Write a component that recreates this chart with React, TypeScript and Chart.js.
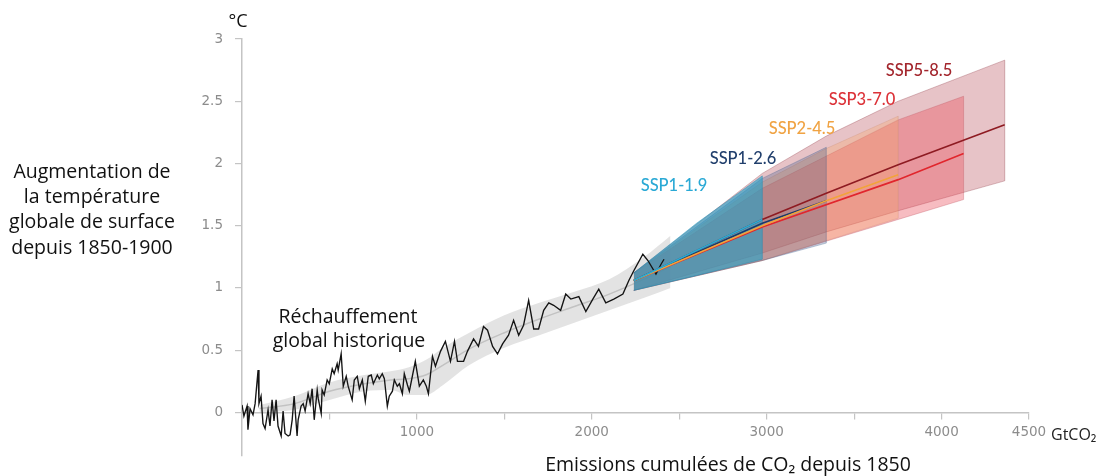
import React, { useEffect, useRef } from "react";
import { Chart, registerables } from "chart.js";

Chart.register(...registerables);

// ---------- Data ----------
const historicalEmissions = [
  0, 11, 29, 34, 46, 63, 75, 92, 97, 109,
  120, 132, 149, 160, 172, 183, 195, 206, 224, 235,
  246, 264, 275, 287, 298, 315, 321, 338, 350, 361,
  378, 390, 401, 413, 430, 436, 453, 458, 470, 487,
  499, 516, 527, 544, 550, 567, 579, 596, 607, 630,
  642, 659, 671, 688, 705, 722, 739, 751, 774, 785,
  802, 814, 831, 842, 860, 871, 888, 900, 917, 928,
  946, 957, 974, 991, 1014, 1037, 1054, 1066, 1089, 1106,
  1135, 1163, 1192, 1215, 1232, 1267, 1289, 1324, 1352, 1381,
  1404, 1433, 1461, 1490, 1524, 1553, 1582, 1610, 1639, 1668,
  1696, 1725, 1754, 1782, 1822, 1851, 1880, 1926, 1966, 2006,
  2040, 2080, 2126, 2178, 2212, 2241, 2292, 2321, 2367, 2396,
  2413,
];
const historicalWarming = [
  0.06, -0.03, 0.05, -0.14, 0.03, -0.02, 0.07, 0.34, 0.07, 0.13,
  -0.09, -0.13, 0.02, -0.11, 0.1, -0.07, 0.1, -0.11, -0.19, 0.01,
  -0.17, -0.19, -0.18, -0.06, 0.13, -0.19, -0.06, 0.05, 0.07, 0.01,
  0.15, 0.07, 0.19, -0.06, 0.18, 0.11, -0.01, 0.18, 0.14, 0.26,
  0.23, 0.35, 0.31, 0.39, 0.34, 0.47, 0.21, 0.29, 0.21, 0.1,
  0.26, 0.29, 0.19, 0.26, 0.09, 0.29, 0.3, 0.23, 0.3, 0.27,
  0.31, 0.27, 0.05, 0.13, 0.17, 0.26, 0.21, 0.23, 0.15, 0.31,
  0.22, 0.17, 0.29, 0.41, 0.21, 0.26, 0.21, 0.15, 0.45, 0.37,
  0.49, 0.57, 0.41, 0.57, 0.41, 0.41, 0.49, 0.59, 0.53, 0.69,
  0.66, 0.53, 0.47, 0.55, 0.62, 0.74, 0.62, 0.7, 0.9, 0.67,
  0.67, 0.82, 0.88, 0.86, 0.82, 0.95, 0.91, 0.93, 0.81, 0.91,
  0.99, 0.88, 0.91, 0.95, 1.06, 1.14, 1.27, 1.22, 1.11, 1.19,
  1.23,
];

const bandEmissions = [100, 300, 500, 700, 850, 950, 1050, 1150, 1300, 1500, 1700, 1900, 2100, 2300, 2450];
const bandLow = [0.0, 0.02, 0.1, 0.17, 0.18, 0.14, 0.14, 0.22, 0.38, 0.52, 0.62, 0.72, 0.82, 0.92, 1.0];
const bandHigh = [0.06, 0.13, 0.24, 0.3, 0.33, 0.36, 0.42, 0.52, 0.64, 0.78, 0.88, 0.97, 1.07, 1.25, 1.42];
const bandMid = [0.03, 0.07, 0.17, 0.23, 0.26, 0.27, 0.3, 0.38, 0.51, 0.64, 0.75, 0.85, 0.95, 1.07, 1.17];

const ssp119Emissions = [2240, 2600, 2975];
const ssp119Low = [0.98, 1.1, 1.23];
const ssp119High = [1.12, 1.52, 1.9];
const ssp119Mid = [1.06, 1.3, 1.55];

const ssp126Emissions = [2240, 2975, 3341];
const ssp126Low = [0.98, 1.22, 1.36];
const ssp126High = [1.12, 1.88, 2.13];
const ssp126Mid = [1.06, 1.52, 1.7];

const ssp245Emissions = [2240, 2975, 3341, 3752];
const ssp245Low = [0.98, 1.22, 1.38, 1.56];
const ssp245High = [1.12, 1.85, 2.12, 2.38];
const ssp245Mid = [1.06, 1.5, 1.7, 1.91];

const ssp370Emissions = [2240, 2975, 3752, 4126];
const ssp370Low = [0.98, 1.22, 1.55, 1.71];
const ssp370High = [1.12, 1.8, 2.35, 2.54];
const ssp370Mid = [1.06, 1.49, 1.87, 2.08];

const ssp585Emissions = [2240, 2975, 3341, 3752, 4361];
const ssp585Low = [0.98, 1.28, 1.45, 1.62, 1.86];
const ssp585High = [1.12, 1.92, 2.22, 2.5, 2.83];
const ssp585Mid = [1.06, 1.55, 1.76, 1.99, 2.31];

const scenarioNames = ["SSP1-1.9", "SSP1-2.6", "SSP2-4.5", "SSP3-7.0", "SSP5-8.5"];
const xLabelledTicks = [1000, 2000, 3000, 4000, 4500];
const yTitleLines = ["Augmentation de", "la température", "globale de surface", "depuis 1850-1900"];
const historyLabelLines = ["Réchauffement", "global historique"];
const xTitle = "Emissions cumulées de CO₂ depuis 1850";
const yUnit = "°C";
const xUnit = "GtCO₂";

// ---------- helpers ----------
const pts = (xs: number[], ys: number[]) => xs.map((x, i) => ({ x, y: ys[i] }));

function fan(xs: number[], lo: number[], hi: number[], fillColor: string, edgeColor: string, order: number) {
  const n = xs.length - 1;
  return [
    { data: pts(xs, lo), borderWidth: 0.8, borderColor: edgeColor, fill: false, order },
    { data: pts(xs, hi), borderWidth: 0.8, borderColor: edgeColor, backgroundColor: fillColor, fill: "-1", order },
    { data: pts([xs[n], xs[n]], [lo[n], hi[n]]), borderWidth: 1, borderColor: edgeColor, fill: false, order },
  ];
}

const TEXT_FONT = '"Open Sans", "Noto Sans", sans-serif';
const LABEL_FONT = 'Lato, "Noto Sans", sans-serif';

const textPlugin = {
  id: "textOverlay",
  afterDraw(chart: any) {
    const ctx = chart.ctx as CanvasRenderingContext2D;
    ctx.save();
    ctx.textAlign = "center";
    ctx.textBaseline = "middle";
    ctx.fillStyle = "#111";
    ctx.font = `19.5px ${TEXT_FONT}`;
    const yTitleY = [172, 197, 222, 248];
    yTitleLines.forEach((t, i) => ctx.fillText(t, 92, yTitleY[i]));
    ctx.fillText(historyLabelLines[0], 348, 317);
    ctx.fillText(historyLabelLines[1], 349, 341);
    ctx.fillText(xTitle, 728, 465);

    ctx.font = `18px ${TEXT_FONT}`;
    ctx.fillText(yUnit, 238, 22);
    ctx.textAlign = "left";
    ctx.fillStyle = "#222";
    ctx.font = `16px ${TEXT_FONT}`;
    ctx.fillText(xUnit, 1051, 435);

    // scenario labels
    const labelColors = ["#2aa9d5", "#213f6c", "#f0a343", "#dc3238", "#a3262d"];
    const labelPos = [
      [674, 186],
      [743, 159],
      [802, 129],
      [862, 100],
      [919, 71],
    ];
    ctx.textAlign = "center";
    ctx.font = `500 16.5px ${LABEL_FONT}`;
    scenarioNames.forEach((n, i) => {
      ctx.fillStyle = labelColors[i];
      ctx.fillText(n, labelPos[i][0], labelPos[i][1]);
    });
    ctx.restore();
  },
};

export default function App() {
  const ref = useRef<HTMLCanvasElement | null>(null);

  useEffect(() => {
    if (!ref.current) return;
    const datasets: any[] = [
      // historical band
      { data: pts(bandEmissions, bandLow), borderWidth: 0, borderColor: "transparent", fill: false, order: 100, cubicInterpolationMode: "monotone" },
      { data: pts(bandEmissions, bandHigh), borderWidth: 0, borderColor: "transparent", backgroundColor: "rgba(185,185,185,0.4)", fill: "-1", order: 100, cubicInterpolationMode: "monotone" },
      { data: pts(bandEmissions, bandMid), borderWidth: 1.5, borderColor: "#c2c2c2", fill: false, order: 95, cubicInterpolationMode: "monotone" },
      // fans (bottom to top)
      ...fan(ssp585Emissions, ssp585Low, ssp585High, "rgba(185,80,90,0.34)", "rgba(150,70,80,0.45)", 90),
      ...fan(ssp370Emissions, ssp370Low, ssp370High, "rgba(232,70,82,0.36)", "rgba(190,80,90,0.4)", 85),
      ...fan(ssp245Emissions, ssp245Low, ssp245High, "rgba(246,165,100,0.3)", "rgba(200,140,110,0.35)", 80),
      ...fan(ssp126Emissions, ssp126Low, ssp126High, "rgba(50,80,130,0.28)", "rgba(60,90,140,0.4)", 75),
      ...fan(ssp119Emissions, ssp119Low, ssp119High, "rgba(30,160,200,0.6)", "rgba(30,140,180,0.6)", 70),
      // historical line
      { data: pts(historicalEmissions, historicalWarming), borderWidth: 1.35, borderColor: "#141414", fill: false, order: 50 },
      // central lines
      { data: pts(ssp585Emissions, ssp585Mid), borderWidth: 1.6, borderColor: "#8e1b22", fill: false, order: 30 },
      { data: pts(ssp370Emissions, ssp370Mid), borderWidth: 1.6, borderColor: "#e1262d", fill: false, order: 28 },
      { data: pts(ssp126Emissions, ssp126Mid), borderWidth: 1.6, borderColor: "#1c3a6b", fill: false, order: 26 },
      { data: pts(ssp245Emissions, ssp245Mid), borderWidth: 1.6, borderColor: "#f2a33a", fill: false, order: 24 },
      { data: pts(ssp119Emissions, ssp119Mid), borderWidth: 1.6, borderColor: "#26acd6", fill: false, order: 22 },
    ];

    const chart = new Chart(ref.current, {
      type: "line",
      data: { datasets },
      options: {
        animation: false,
        responsive: true,
        maintainAspectRatio: false,
        layout: { padding: { top: 39, right: 75, bottom: 16, left: 0 } },
        elements: { point: { radius: 0 }, line: { tension: 0 } },
        plugins: {
          legend: { display: false },
          tooltip: { enabled: false },
          filler: { propagate: false },
        },
        scales: {
          x: {
            type: "linear",
            min: 0,
            max: 4500,
            position: { y: 0 } as any,
            ticks: {
              stepSize: 500,
              autoSkip: false,
              maxRotation: 0,
              padding: 6,
              color: "#8c8c8c",
              font: { family: '"DejaVu Sans", sans-serif', size: 13.5 },
              callback: (v: any) => (xLabelledTicks.includes(Number(v)) ? String(v) : ""),
            },
            grid: { drawOnChartArea: false, drawTicks: true, tickLength: 6, color: "#c4c4c4", lineWidth: 1.2 },
            border: { color: "#c4c4c4", width: 1.5 },
          },
          y: {
            type: "linear",
            min: -0.35,
            max: 3,
            afterBuildTicks: (s: any) => {
              s.ticks = s.ticks.filter((t: any) => t.value >= 0);
            },
            afterFit: (s: any) => {
              s.width = 242;
            },
            ticks: {
              stepSize: 0.5,
              padding: 12,
              color: "#8c8c8c",
              font: { family: '"DejaVu Sans", sans-serif', size: 13.5 },
              callback: (v: any) => String(Math.round(Number(v) * 10) / 10),
            },
            grid: { drawOnChartArea: false, drawTicks: true, tickLength: 7, color: "#c4c4c4", lineWidth: 1.2 },
            border: { color: "#c4c4c4", width: 1.5 },
          },
        },
      },
      plugins: [textPlugin],
    });
    return () => chart.destroy();
  }, []);

  return (
    <div style={{ position: "absolute", left: 0, top: 0, width: 1104, height: 476, background: "#fff" }}>
      <canvas ref={ref} />
    </div>
  );
}
